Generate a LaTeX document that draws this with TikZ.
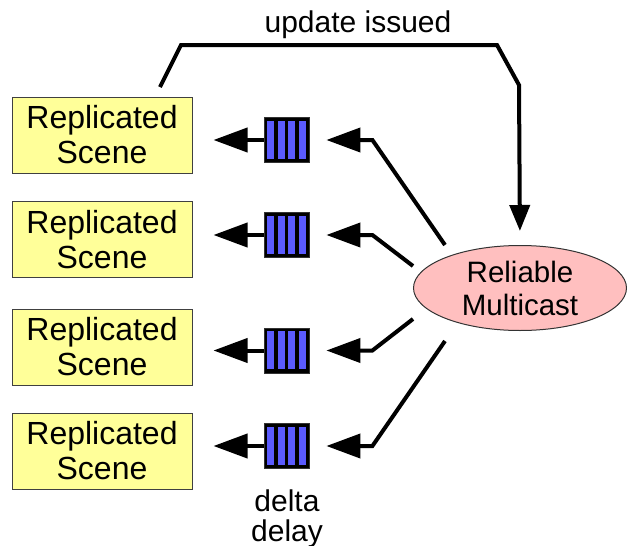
\documentclass[tikz,border=0pt]{standalone}
\usepackage{fontspec}
\setmainfont{Liberation Sans}
\usetikzlibrary{shapes.geometric,arrows.meta,calc}
\definecolor{sceneyellow}{RGB}{255,255,153}
\definecolor{mcpink}{RGB}{255,191,191}
\definecolor{barblue}{RGB}{91,91,255}
\tikzset{
  scenebox/.style={draw=black!75, line width=1pt, fill=sceneyellow, minimum width=180pt, minimum height=76pt, inner sep=0pt, align=center, font=\fontsize{32}{35}\selectfont},
  queuebox/.style={fill=black, draw=black!80, line width=0.8pt, minimum width=45pt, minimum height=45pt, inner sep=0pt},
  mcast/.style={ellipse, draw=black!80, line width=1pt, fill=mcpink, minimum width=213pt, minimum height=85pt, inner sep=0pt, align=center, font=\fontsize{29.5}{33}\selectfont},
  bigarrow/.style={line width=4pt, -{Triangle[length=34pt,width=24pt]}},
  toparrow/.style={line width=4pt, line join=miter, -{Triangle[length=26pt,width=20pt]}},
  lbl/.style={inner sep=0pt, align=center}
}
\begin{document}
\begin{tikzpicture}[x=1pt,y=-1pt]
\useasboundingbox (0,0) rectangle (627,546);
% scenes
\node[scenebox] (r1) at (102,135) {Replicated\\Scene};
\node[scenebox] (r2) at (102,239.5) {Replicated\\Scene};
\node[scenebox] (r3) at (102,347) {Replicated\\Scene};
\node[scenebox] (r4) at (102,451) {Replicated\\Scene};
% queues
\foreach \i/\y in {1/140,2/235,3/350.5,4/446}{
  \node[queuebox] (q\i) at (286.5,\y) {};
  \foreach \bx in {3.3,14.3,24.3,35.3}{
    \fill[barblue] ($(q\i.north west)+(\bx,3.5)$) rectangle ++(6.7,38);
  }
}
% multicast
\node[mcast] (m) at (520,288) {Reliable\\Multicast};
% free ends near ellipse and start of update line
\coordinate (s1) at (445,245);
\coordinate (s2) at (413,266);
\coordinate (s3) at (413,319);
\coordinate (s4) at (445,341);
\coordinate (u0) at (160,87);
% queue -> scene
\foreach \i in {1,...,4}{
  \draw[bigarrow, shorten >=21pt] (q\i.west) -- (r\i.east |- q\i.west);
}
% multicast -> queues
\foreach \i in {1,...,4}{
  \draw[bigarrow, line join=miter, shorten >=17pt] (s\i) -- ([xshift=63pt]q\i.east) -- (q\i.east);
}
% update issued
\draw[toparrow, shorten >=14pt] (u0) -- (181,45) -- (497,45) -- (519,85) -- (m.north);
\node[lbl, font=\fontsize{30}{34}\selectfont, anchor=base] (ui) at (358,32) {update issued};
\node[lbl, font=\fontsize{30}{30}\selectfont, anchor=base] (dd) at (287,541) {delta\\delay};
\end{tikzpicture}
\end{document}
